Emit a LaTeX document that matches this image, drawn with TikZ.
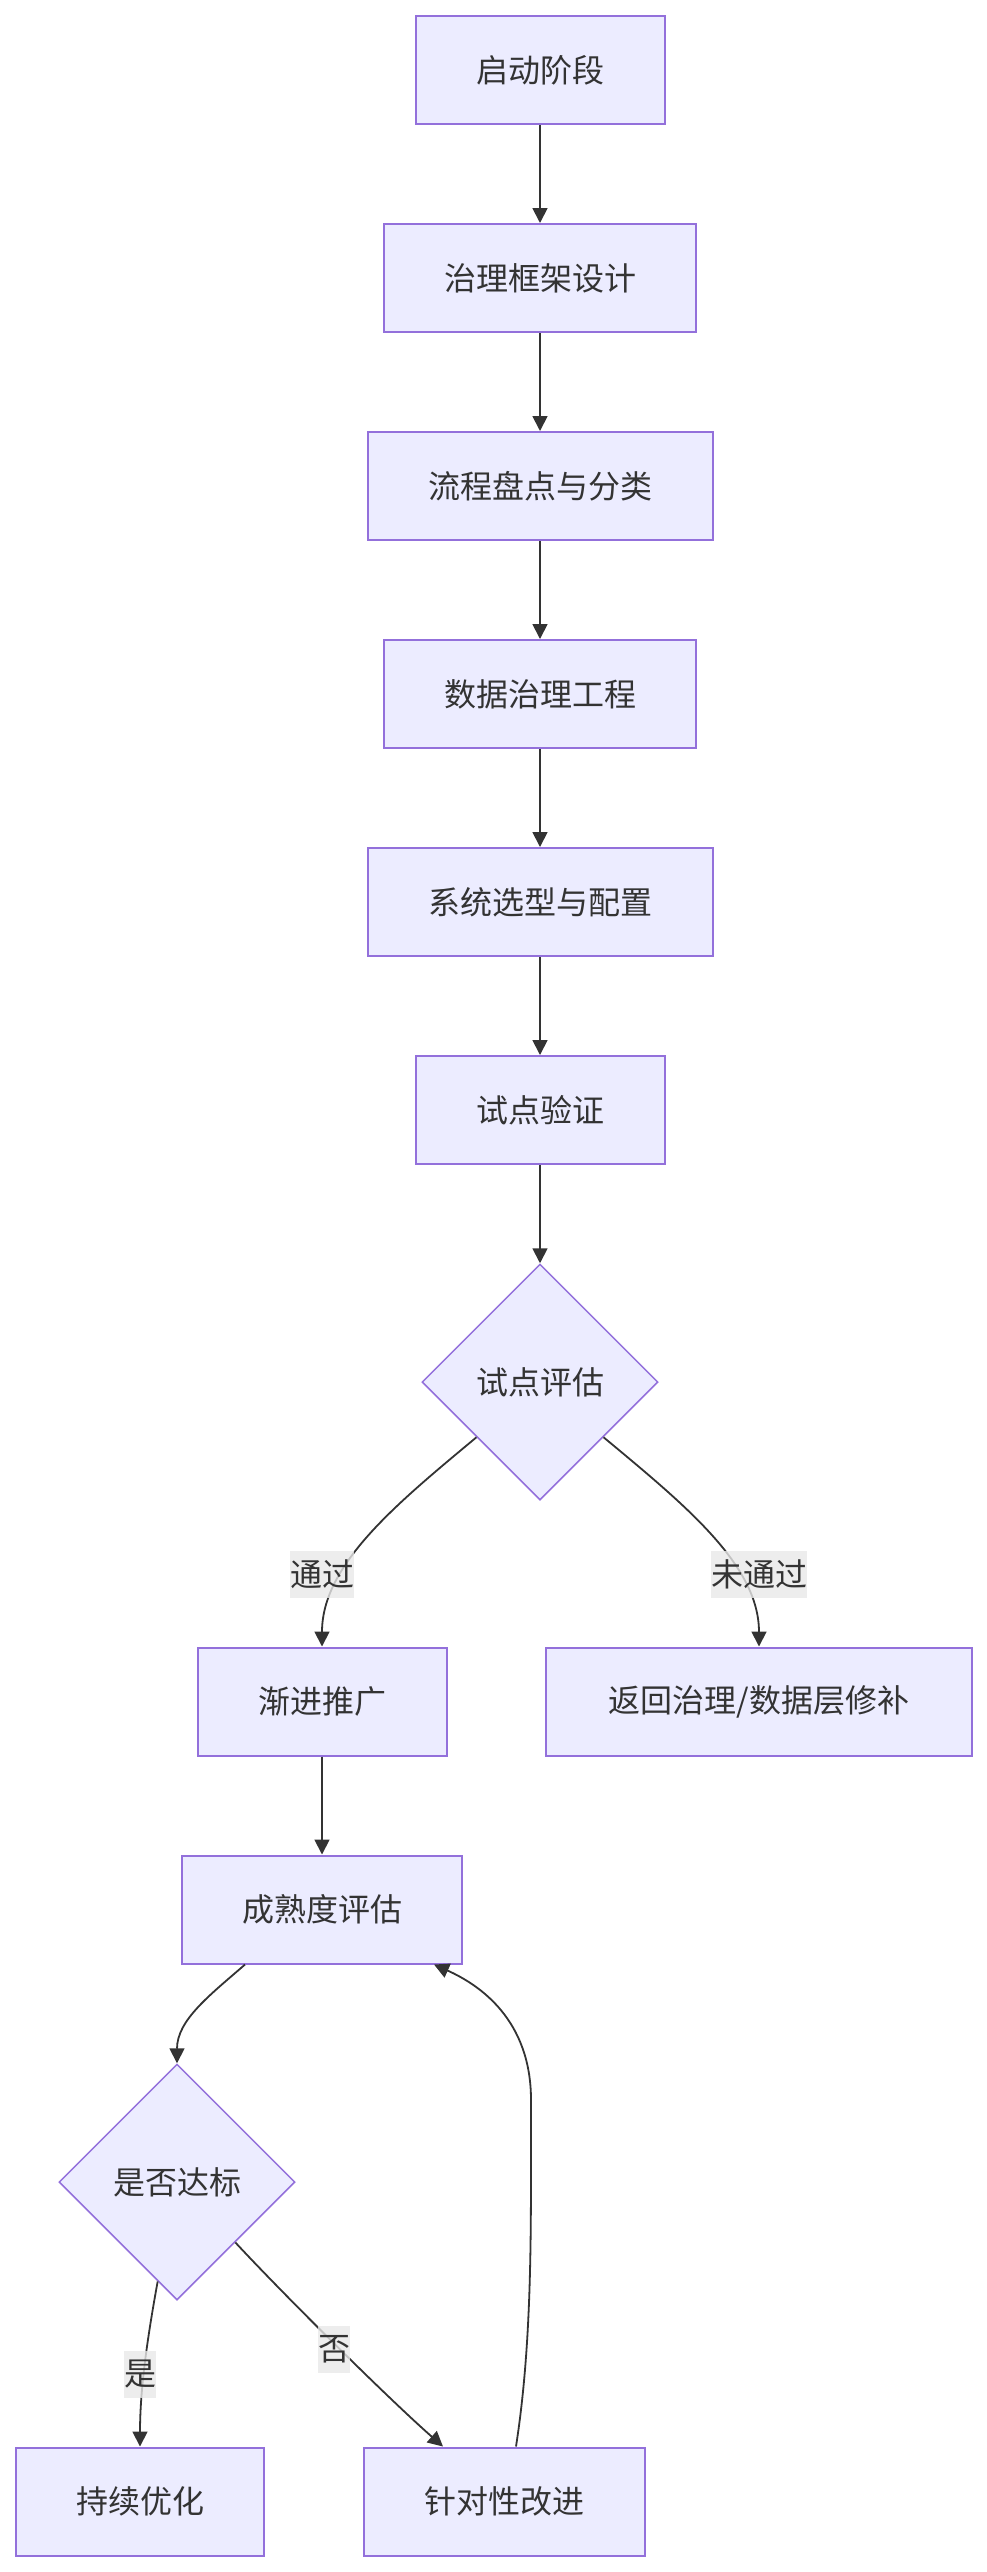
\documentclass[tikz,border=0pt]{standalone}
\usepackage{fontspec}
\setmainfont{Noto Sans CJK SC}
\usetikzlibrary{shapes.geometric,arrows.meta,calc}
\definecolor{boxfill}{HTML}{ECECFF}
\definecolor{boxline}{HTML}{9370DB}
\definecolor{edgecol}{HTML}{333333}
\definecolor{txtcol}{HTML}{333333}
\definecolor{lblbg}{HTML}{E8E8E8}
\begin{document}
\begin{tikzpicture}[x=0.5pt,y=-0.5pt,
  every node/.style={font=\fontsize{16pt}{19pt}\selectfont, text=txtcol},
  proc/.style={draw=boxline, fill=boxfill, line width=1pt, minimum height=54pt, inner sep=0pt},
  decision/.style={diamond, aspect=1, draw=boxline, fill=boxfill, line width=0.75pt, minimum width=118pt, minimum height=118pt, inner sep=0pt},
  elabel/.style={fill=lblbg, fill opacity=0.8, text opacity=1, inner xsep=0pt, inner ysep=0pt, minimum height=23.5pt},
  flow/.style={draw=edgecol, line width=0.9pt, -{Triangle[length=7.5pt,width=7.5pt]}}
]
\useasboundingbox (0,0) rectangle (986,2572);

\node[proc, minimum width=124.5pt] (b1) at (540,70) {启动阶段};
\node[proc, minimum width=156pt] (b2) at (540,278) {治理框架设计};
\node[proc, minimum width=172.5pt] (b3) at (540,486) {流程盘点与分类};
\node[proc, minimum width=156pt] (b4) at (540,694) {数据治理工程};
\node[proc, minimum width=172.5pt] (b5) at (540,902) {系统选型与配置};
\node[proc, minimum width=124.5pt] (b6) at (540,1110) {试点验证};
\node[decision] (d1) at (540,1382) {试点评估};
\node[proc, minimum width=124.5pt] (b7) at (322,1701.5) {渐进推广};
\node[proc, minimum width=213pt] (b8) at (759,1701.5) {返回治理/数据层修补};
\node[proc, minimum width=140pt] (b9) at (322,1909.5) {成熟度评估};
\node[decision] (d2) at (177,2182) {是否达标};
\node[proc, minimum width=124pt] (b10) at (140,2501.5) {持续优化};
\node[proc, minimum width=140.5pt] (b11) at (504,2501.5) {针对性改进};

\draw[flow] (b1) -- (b2);
\draw[flow] (b2) -- (b3);
\draw[flow] (b3) -- (b4);
\draw[flow] (b4) -- (b5);
\draw[flow] (b5) -- (b6);
\draw[flow] (b6) -- (d1);
\draw[flow] (b7) -- (b9);
\draw[flow] (d1.221) .. controls (395,1505) and (322,1565) .. (b7.north);
\draw[flow] (d1.319) .. controls (685,1505) and (759,1565) .. (b8.north);
\draw[flow] ($(b9.south)+(-77,0)$) .. controls (210,1995) and (177,2020) .. (d2.north);
\draw[flow] (d2.259) .. controls (147,2340) and (140,2390) .. (b10.north);
\draw[flow] (d2.314) .. controls (285,2296) and (390,2400) .. ($(b11.north)+(-61,0)$);
\draw[flow] ($(b11.north)+(12,0)$) .. controls (531,2350) and (531,2250) .. (531,2150) -- (531,2100) .. controls (531,2020) and (480,1985) .. ($(b9.south)+(112,0)$);

\node[elabel] (l1) at (322,1574) {通过};
\node[elabel] (l2) at (759,1574) {未通过};
\node[elabel] (l3) at (140,2374) {是};
\node[elabel] (l4) at (334,2349) {否};
\end{tikzpicture}
\end{document}
